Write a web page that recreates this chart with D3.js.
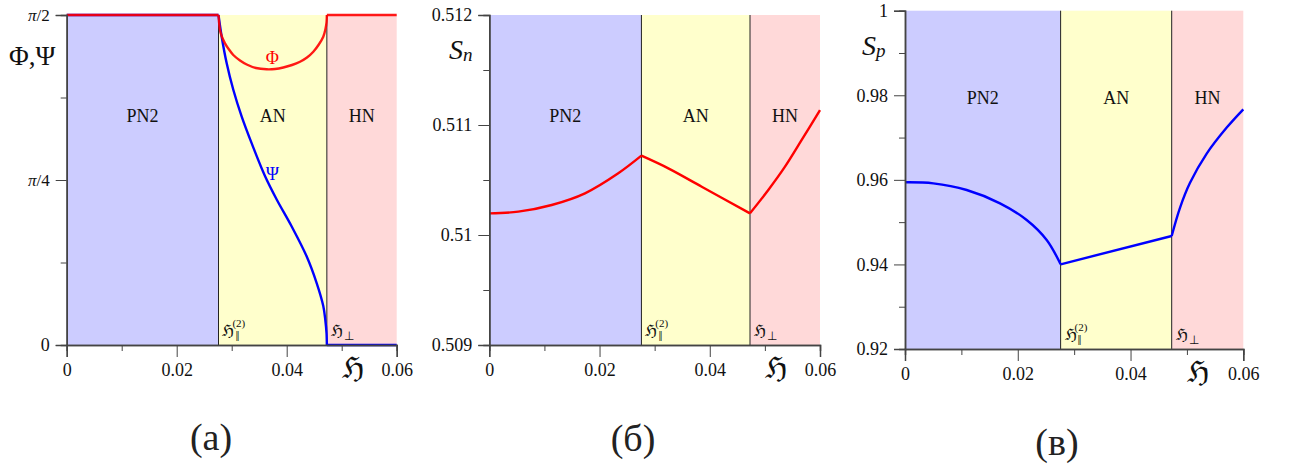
<!DOCTYPE html>
<html>
<head>
<meta charset="utf-8">
<script src="https://cdn.jsdelivr.net/npm/d3@7"></script>
</head>
<body style="margin:0; background:#fff">
<div id="chart"></div>
<script>
// phase boundaries (field H)
var hPar = 0.0276;
var hPerp = 0.0473;
var phaseNames = ["PN2", "AN", "HN"];
var phaseBounds = [0, hPar, hPerp, 0.06];
var phaseColors = ["#ccccff", "#ffffcc", "#ffd9d9"];

var hTicks = [0, 0.02, 0.04, 0.06];
var hMinorTicks = [0.01, 0.03, 0.05];

// panel (a): angles Phi, Psi (radians)
var phiH = [0, 0.0276, 0.02787, 0.02824, 0.02878, 0.02951, 0.03029, 0.03151, 0.03273, 0.03442, 0.03636, 0.03787,
            0.03938, 0.04096, 0.04242, 0.04369, 0.04484, 0.04578, 0.04665, 0.04705, 0.04725, 0.0473, 0.06];
var phiV = [1.5708, 1.5708, 1.4994, 1.4661, 1.4361, 1.4066, 1.3804, 1.3542, 1.3352, 1.3185, 1.3124, 1.3138,
            1.3209, 1.3328, 1.3485, 1.3685, 1.3961, 1.4280, 1.4675, 1.5042, 1.5375, 1.5708, 1.5708];
var psiH = [0, 0.0276, 0.02818, 0.02909, 0.03029, 0.03182, 0.03364, 0.03605, 0.03818, 0.04091, 0.04364, 0.04545,
            0.04665, 0.04702, 0.04724, 0.0473, 0.06];
var psiV = [1.5708, 1.5708, 1.4675, 1.3409, 1.2148, 1.0872, 0.9596, 0.8044, 0.6926, 0.5641, 0.4213, 0.2951,
            0.1856, 0.1190, 0.0571, 0, 0];
var angleTicks = [0, Math.PI / 4, Math.PI / 2];
var angleTickLabels = ["0", "π/4", "π/2"];
var angleMinorTicks = [Math.PI / 8, 3 * Math.PI / 8];

// panel (б): S_n
var snH = [0, 0.00526, 0.01132, 0.01736, 0.02340, 0.0276, 0.03248, 0.03854, 0.0473, 0.05062, 0.05365, 0.05668, 0.06];
var snV = [0.510197, 0.510212, 0.510273, 0.510379, 0.510561, 0.510721, 0.510606, 0.510439, 0.510197, 0.510409, 0.510621, 0.510864, 0.511136];
var snTicks = [0.509, 0.51, 0.511, 0.512];
var snMinorTicks = [0.5095, 0.5105, 0.5115];

// panel (в): S_p
var spH = [0, 0.00502, 0.01094, 0.01685, 0.02158, 0.02513, 0.0276, 0.0473, 0.04877, 0.05055, 0.05351, 0.05706, 0.06];
var spV = [0.95942, 0.95918, 0.9576, 0.95445, 0.95051, 0.94578, 0.94003, 0.94672, 0.95339, 0.95930, 0.96621, 0.97236, 0.97668];
var spTicks = [0.92, 0.94, 0.96, 0.98, 1];
var spMinorTicks = [0.93, 0.95, 0.97, 0.99];

var FONT = "Liberation Serif";
var INK = "#111";
var AXIS = "#444";

var svg = d3.select("#chart").append("svg")
    .attr("width", 1289)
    .attr("height", 468)
    .style("font-family", FONT);

function styleAxis(sel) {
    sel.attr("font-family", FONT);
    sel.select("path.domain").attr("stroke", AXIS).attr("stroke-width", 1.5);
    sel.selectAll(".tick line").attr("stroke", AXIS).attr("stroke-width", 1);
    sel.selectAll(".tick text").attr("fill", INK).attr("font-size", 18).style("font-family", FONT);
}

function drawPanel(p) {
    var g = svg.append("g").attr("transform", `translate(${p.left}, ${p.top})`);
    var x = d3.scaleLinear().domain([0, 0.06]).range([0, p.w]);
    var y = d3.scaleLinear().domain(p.yDomain).range([p.h, 0]);

    // phase backgrounds
    g.selectAll("rect.phase")
        .data(phaseNames)
        .enter()
        .append("rect")
        .attr("class", "phase")
        .attr("x", (d, i) => x(phaseBounds[i]))
        .attr("y", 0)
        .attr("width", (d, i) => x(phaseBounds[i + 1]) - x(phaseBounds[i]))
        .attr("height", p.h)
        .attr("fill", (d, i) => phaseColors[i]);

    g.selectAll("text.phase")
        .data(phaseNames)
        .enter()
        .append("text")
        .attr("x", (d, i) => (x(phaseBounds[i]) + x(phaseBounds[i + 1])) / 2)
        .attr("y", p.phaseY)
        .attr("text-anchor", "middle")
        .attr("font-size", 18)
        .attr("fill", INK)
        .style("font-family", FONT)
        .text(d => d);

    // boundary lines
    g.selectAll("line.bound")
        .data([hPar, hPerp])
        .enter()
        .append("line")
        .attr("x1", d => x(d)).attr("x2", d => x(d))
        .attr("y1", 0).attr("y2", p.h)
        .attr("stroke", "#222")
        .attr("stroke-width", 1);

    // boundary labels
    var lb1 = g.append("text").attr("x", x(hPar) + 4).attr("y", p.h - 9)
        .attr("font-size", 16).attr("fill", INK).style("font-family", FONT);
    lb1.append("tspan").text("ℌ");
    lb1.append("tspan").attr("font-size", 14).attr("dx", 1).attr("dy", 5).text("‖");
    lb1.append("tspan").attr("font-size", 11).attr("dx", -7).attr("dy", -14).text("(2)");
    var lb2 = g.append("text").attr("x", x(hPerp) + 4).attr("y", p.h - 9)
        .attr("font-size", 16).attr("fill", INK).style("font-family", FONT);
    lb2.append("tspan").text("ℌ");
    lb2.append("tspan").attr("font-size", 12).attr("dx", 1).attr("dy", 4).text("⊥");

    // series, drawn phase by phase so kinks at boundaries stay sharp
    var line = d3.line()
        .x(d => x(d[0]))
        .y(d => y(d[1]))
        .curve(d3.curveCatmullRom.alpha(0.5));
    p.series.forEach(function (s) {
        var pts = s.h.map((h, i) => [h, s.v[i]]);
        for (var i = 0; i < 3; i++) {
            var seg = pts.filter(d => d[0] >= phaseBounds[i] && d[0] <= phaseBounds[i + 1]);
            g.append("path")
                .attr("d", line(seg))
                .attr("fill", "none")
                .attr("stroke", s.color)
                .attr("stroke-opacity", s.opacity || 1)
                .attr("stroke-width", 2.4);
        }
    });

    // axes
    g.append("g")
        .attr("transform", `translate(0, ${p.h})`)
        .call(d3.axisBottom(x).tickValues(hMinorTicks).tickSize(6).tickFormat(""))
        .call(styleAxis);
    g.append("g")
        .attr("transform", `translate(0, ${p.h})`)
        .call(d3.axisBottom(x).tickValues(hTicks).tickSize(12).tickPadding(6).tickFormat(d => d === 0 ? "0" : d3.format(".2f")(d)))
        .call(styleAxis);

    g.append("g")
        .call(d3.axisLeft(y).tickValues(p.yMinor).tickSize(6).tickFormat(""))
        .call(styleAxis);
    var yAxisG = g.append("g")
        .call(d3.axisLeft(y).tickValues(p.yTicks).tickSize(11).tickPadding(6).tickFormat((d, i) => p.yTickLabels[i]))
        .call(styleAxis);
    if (p.piLabels) {
        yAxisG.selectAll(".tick text").each(function (d, i) {
            var t = d3.select(this);
            var s = p.yTickLabels[i];
            if (s.indexOf("π") === 0) {
                t.text(null).attr("font-size", 17);
                t.append("tspan").attr("font-style", "italic").text("π");
                t.append("tspan").text(s.slice(1));
            }
        });
    }

    // field axis symbol
    g.append("text")
        .attr("x", x(0.052))
        .attr("y", p.h + 33)
        .attr("text-anchor", "middle")
        .attr("font-size", 30)
        .attr("fill", INK)
        .style("font-family", FONT)
        .text("ℌ");

    // caption
    g.append("text")
        .attr("x", p.capX - p.left)
        .attr("y", p.capY - p.top)
        .attr("text-anchor", "middle")
        .attr("font-size", 38)
        .attr("fill", "#222")
        .style("font-family", FONT)
        .text(p.caption);

    return { g: g, x: x, y: y };
}

// (a)
var pa = drawPanel({
    left: 66.7, top: 15, w: 330, h: 330,
    yDomain: [0, Math.PI / 2], yTicks: angleTicks, yTickLabels: angleTickLabels, yMinor: angleMinorTicks, piLabels: true,
    phaseY: 107,
    series: [
        { h: psiH, v: psiV, color: "#0000ff" },
        { h: phiH, v: phiV, color: "#ff0000", opacity: 0.9 }
    ],
    caption: "(а)", capX: 211, capY: 450
});
svg.append("text").attr("x", 9).attr("y", 65).attr("font-size", 27).attr("fill", INK)
    .style("font-family", FONT).text("Φ,Ψ");
pa.g.append("text").attr("x", pa.x(0.0374)).attr("y", 64 - 15).attr("text-anchor", "middle")
    .attr("font-size", 18).attr("fill", "#ff0000").style("font-family", FONT).text("Φ");
pa.g.append("text").attr("x", pa.x(0.0374)).attr("y", 180 - 15).attr("text-anchor", "middle")
    .attr("font-size", 18).attr("fill", "#0000ff").style("font-family", FONT).text("Ψ");

// (б)
drawPanel({
    left: 489.3, top: 15, w: 330.7, h: 330,
    yDomain: [0.509, 0.512], yTicks: snTicks, yTickLabels: snTicks.map(d => d3.format("")(d)), yMinor: snMinorTicks,
    phaseY: 107,
    series: [{ h: snH, v: snV, color: "#ff0000" }],
    caption: "(б)", capX: 633, capY: 451
});
var snLabel = svg.append("text").attr("x", 449).attr("y", 59).attr("font-size", 28)
    .attr("font-style", "italic").attr("fill", INK).style("font-family", FONT);
snLabel.append("tspan").text("S");
snLabel.append("tspan").attr("font-size", 19).attr("dy", 2).text("n");

// (в)
drawPanel({
    left: 905, top: 10.7, w: 338.3, h: 338.3,
    yDomain: [0.92, 1], yTicks: spTicks, yTickLabels: spTicks.map(d => d3.format("")(d)), yMinor: spMinorTicks,
    phaseY: 104 - 10.7,
    series: [{ h: spH, v: spV, color: "#0000ff" }],
    caption: "(в)", capX: 1057, capY: 455
});
var spLabel = svg.append("text").attr("x", 862).attr("y", 55).attr("font-size", 28)
    .attr("font-style", "italic").attr("fill", INK).style("font-family", FONT);
spLabel.append("tspan").text("S");
spLabel.append("tspan").attr("font-size", 19).attr("dy", 2).text("p");
</script>
</body>
</html>
